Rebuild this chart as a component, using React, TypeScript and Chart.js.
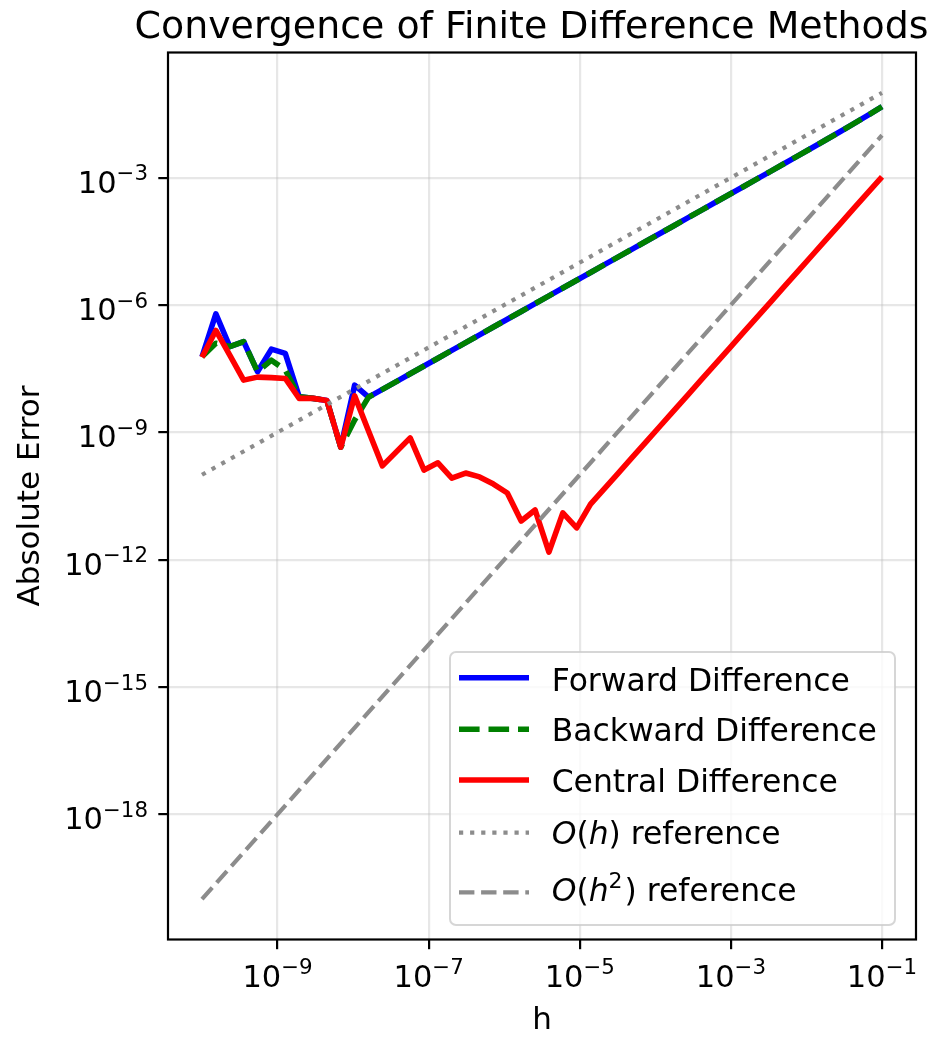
import { useEffect, useRef } from "react";
import { Chart, registerables } from "chart.js";

Chart.register(...registerables);

// Step sizes h (50 log-spaced values from 1e-10 to 1e-1)
const stepSizes = [
  1.0e-10, 1.526e-10, 2.33e-10, 3.556e-10, 5.429e-10, 8.286e-10, 1.265e-9, 1.931e-9, 2.947e-9, 4.498e-9,
  6.866e-9, 1.048e-8, 1.6e-8, 2.442e-8, 3.728e-8, 5.69e-8, 8.685e-8, 1.326e-7, 2.024e-7, 3.089e-7,
  4.715e-7, 7.197e-7, 1.099e-6, 1.677e-6, 2.56e-6, 3.907e-6, 5.964e-6, 9.103e-6, 1.389e-5, 2.121e-5,
  3.237e-5, 4.942e-5, 7.543e-5, 1.151e-4, 1.758e-4, 2.683e-4, 4.095e-4, 6.251e-4, 9.541e-4, 1.456e-3,
  2.223e-3, 3.393e-3, 5.179e-3, 7.906e-3, 1.207e-2, 1.842e-2, 2.812e-2, 4.292e-2, 6.551e-2, 1.0e-1,
];

// Absolute error of the forward difference
const forwardError = [
  6.03e-8, 6.17e-7, 1.05e-7, 1.38e-7, 2.69e-8, 9.12e-8, 7.24e-8, 6.92e-9, 6.31e-9, 5.62e-9,
  4.47e-10, 1.29e-8, 6.76e-9, 1.028e-8, 1.569e-8, 2.395e-8, 3.656e-8, 5.582e-8, 8.521e-8, 1.3e-7,
  1.985e-7, 3.03e-7, 4.627e-7, 7.06e-7, 1.078e-6, 1.645e-6, 2.511e-6, 3.832e-6, 5.848e-6, 8.929e-6,
  1.363e-5, 2.081e-5, 3.176e-5, 4.846e-5, 7.401e-5, 1.13e-4, 1.724e-4, 2.632e-4, 4.017e-4, 6.13e-4,
  9.359e-4, 1.428e-3, 2.193e-3, 3.359e-3, 5.154e-3, 7.925e-3, 1.223e-2, 1.899e-2, 2.973e-2, 4.71e-2,
];

// Absolute error of the backward difference
const backwardError = [
  6.03e-8, 1.26e-7, 1.05e-7, 1.38e-7, 2.69e-8, 5.01e-8, 2.95e-8, 6.92e-9, 6.31e-9, 5.62e-9,
  4.47e-10, 1.95e-9, 6.76e-9, 1.028e-8, 1.569e-8, 2.395e-8, 3.656e-8, 5.582e-8, 8.521e-8, 1.3e-7,
  1.985e-7, 3.03e-7, 4.627e-7, 7.06e-7, 1.078e-6, 1.645e-6, 2.511e-6, 3.832e-6, 5.848e-6, 8.929e-6,
  1.363e-5, 2.081e-5, 3.176e-5, 4.846e-5, 7.401e-5, 1.13e-4, 1.724e-4, 2.632e-4, 4.017e-4, 6.13e-4,
  9.359e-4, 1.428e-3, 2.193e-3, 3.359e-3, 5.154e-3, 7.925e-3, 1.223e-2, 1.899e-2, 2.973e-2, 4.71e-2,
];

// Absolute error of the central difference
const centralError = [
  5.89e-8, 2.51e-7, 6.61e-8, 1.7e-8, 2.0e-8, 1.95e-8, 1.86e-8, 6.31e-9, 6.31e-9, 5.62e-9,
  4.47e-10, 7.24e-9, 1.07e-9, 1.62e-10, 3.47e-10, 7.41e-10, 1.29e-10, 1.91e-10, 8.32e-11, 1.1e-10,
  8.91e-11, 6.03e-11, 3.72e-11, 8.13e-12, 1.48e-11, 1.51e-12, 1.26e-11, 5.62e-12, 2.03e-11, 4.724e-11,
  1.1e-10, 2.564e-10, 5.974e-10, 1.391e-9, 3.245e-9, 7.558e-9, 1.761e-8, 4.103e-8, 9.558e-8, 2.226e-7,
  5.189e-7, 1.209e-6, 2.816e-6, 6.563e-6, 1.53e-5, 3.563e-5, 8.303e-5, 1.934e-4, 4.506e-4, 1.05e-3,
];

// Reference slopes, given at the ends of the h range
const referenceH = [1e-10, 1e-1];
const firstOrderRef = [1e-10, 1e-1];
const secondOrderRef = [1e-20, 1e-2];

// Tick positions as powers of ten
const xTickExponents = [-9, -7, -5, -3, -1];
const yTickExponents = [-18, -15, -12, -9, -6, -3];

const TITLE = "Convergence of Finite Difference Methods";
const X_LABEL = "h";
const Y_LABEL = "Absolute Error";

const FONT = '"DejaVu Sans", "Liberation Sans", sans-serif';
const GRAY = "#8c8c8c";
const TICK_SIZE = 30.5;

const toPoints = (xs: number[], ys: number[]) => xs.map((x, i) => ({ x, y: ys[i] }));

type Run = { text: string; italic?: boolean; sup?: boolean };

// Minimal $...$ markup: letters italic, ^x superscript
const parseLabel = (label: string): Run[] => {
  const runs: Run[] = [];
  label.split("$").forEach((part, idx) => {
    if (idx % 2 === 0) {
      if (part) runs.push({ text: part });
      return;
    }
    for (let i = 0; i < part.length; i++) {
      const c = part[i];
      if (c === "^") {
        runs.push({ text: part[i + 1], sup: true });
        i++;
      } else if (/[A-Za-z]/.test(c)) runs.push({ text: c, italic: true });
      else runs.push({ text: c });
    }
  });
  return runs;
};

// Power-of-ten tick label: "10" with a raised, smaller exponent.
// (cx, cy) is the anchor; align picks which edge of the label sits on it.
const drawPowerLabel = (
  ctx: CanvasRenderingContext2D,
  exp: number,
  x: number,
  baseline: number,
  align: "center" | "right"
) => {
  const base = "10";
  const sup = (exp < 0 ? "\u2212" : "") + String(Math.abs(exp));
  const supSize = TICK_SIZE * 0.7;
  ctx.font = `${TICK_SIZE}px ${FONT}`;
  const wBase = ctx.measureText(base).width;
  ctx.font = `${supSize}px ${FONT}`;
  const wSup = ctx.measureText(sup).width;
  const total = wBase + wSup;
  const left = align === "center" ? x - total / 2 : x - total;
  ctx.textAlign = "left";
  ctx.textBaseline = "alphabetic";
  ctx.font = `${TICK_SIZE}px ${FONT}`;
  ctx.fillText(base, left, baseline);
  ctx.font = `${supSize}px ${FONT}`;
  ctx.fillText(sup, left + wBase, baseline - TICK_SIZE * 0.4);
};

const frameTitleLegend = {
  id: "frameTitleLegend",
  afterDraw(chart: any) {
    const { ctx, chartArea: a, scales } = chart;
    ctx.save();

    // axes frame
    ctx.strokeStyle = "#000";
    ctx.lineWidth = 2.2;
    ctx.setLineDash([]);
    ctx.strokeRect(a.left, a.top, a.right - a.left, a.bottom - a.top);

    // tick labels
    ctx.fillStyle = "#000";
    xTickExponents.forEach((e) => {
      const px = scales.x.getPixelForValue(Math.pow(10, e));
      drawPowerLabel(ctx, e, px, a.bottom + 47, "center");
    });
    yTickExponents.forEach((e) => {
      const py = scales.y.getPixelForValue(Math.pow(10, e));
      drawPowerLabel(ctx, e, a.left - 20, py + 15, "right");
    });

    // title
    ctx.fillStyle = "#000";
    ctx.font = `37.9px ${FONT}`;
    ctx.textAlign = "center";
    ctx.textBaseline = "alphabetic";
    ctx.fillText(TITLE, 531.5, 38);

    // legend box
    const bx = 450, by = 652, bw = 445, bh = 273, r = 6;
    ctx.beginPath();
    ctx.moveTo(bx + r, by);
    ctx.arcTo(bx + bw, by, bx + bw, by + bh, r);
    ctx.arcTo(bx + bw, by + bh, bx, by + bh, r);
    ctx.arcTo(bx, by + bh, bx, by, r);
    ctx.arcTo(bx, by, bx + bw, by, r);
    ctx.closePath();
    ctx.fillStyle = "rgba(255,255,255,0.8)";
    ctx.fill();
    ctx.strokeStyle = "rgba(204,204,204,0.8)";
    ctx.lineWidth = 2;
    ctx.stroke();

    const lineY = [677.7, 729.3, 780, 832.7, 892.3];
    const textY = [690.7, 741, 791.7, 844, 901];
    const size = 31.4;
    chart.data.datasets.forEach((ds: any, i: number) => {
      ctx.beginPath();
      ctx.strokeStyle = ds.borderColor;
      ctx.lineWidth = ds.borderWidth;
      ctx.lineCap = "butt";
      ctx.setLineDash(ds.borderDash || []);
      ctx.moveTo(459, lineY[i]);
      ctx.lineTo(529, lineY[i]);
      ctx.stroke();
      ctx.setLineDash([]);

      let x = 551.7;
      ctx.fillStyle = "#000";
      ctx.textAlign = "left";
      ctx.textBaseline = "alphabetic";
      parseLabel(ds.label).forEach((run) => {
        const fs = run.sup ? size * 0.7 : size;
        ctx.font = `${run.italic ? "italic " : ""}${fs}px ${FONT}`;
        const y = run.sup ? textY[i] - size * 0.42 : textY[i];
        ctx.fillText(run.text, x, y);
        x += ctx.measureText(run.text).width + (run.sup ? 2 : 0);
      });
    });

    ctx.restore();
  },
};

export default function App() {
  const canvasRef = useRef<HTMLCanvasElement | null>(null);

  useEffect(() => {
    const canvas = canvasRef.current;
    if (!canvas) return;

    const gridStyle = {
      color: "rgba(176,176,176,0.3)",
      lineWidth: 2.2,
      drawTicks: true,
      tickColor: "#000",
      tickLength: 9.7,
      tickWidth: 2.2,
    };

    const chart = new Chart(canvas, {
      type: "line",
      data: {
        datasets: [
          {
            label: "Forward Difference",
            data: toPoints(stepSizes, forwardError),
            borderColor: "#0000ff",
            borderWidth: 5.6,
            order: 5,
          },
          {
            label: "Backward Difference",
            data: toPoints(stepSizes, backwardError),
            borderColor: "#008000",
            borderWidth: 5.6,
            borderDash: [20.6, 8.9],
            order: 4,
          },
          {
            label: "Central Difference",
            data: toPoints(stepSizes, centralError),
            borderColor: "#ff0000",
            borderWidth: 5.6,
            order: 3,
          },
          {
            label: "$O(h)$ reference",
            data: toPoints(referenceH, firstOrderRef),
            borderColor: GRAY,
            borderWidth: 4.2,
            borderDash: [4.2, 6.9],
            order: 2,
          },
          {
            label: "$O(h^2)$ reference",
            data: toPoints(referenceH, secondOrderRef),
            borderColor: GRAY,
            borderWidth: 4.2,
            borderDash: [15.4, 6.7],
            order: 1,
          },
        ],
      } as any,
      options: {
        animation: false,
        responsive: false,
        devicePixelRatio: 1,
        events: [],
        layout: { padding: { top: 52.5, right: 31, bottom: 0, left: 0 } },
        elements: {
          point: { radius: 0, hoverRadius: 0 },
          line: { tension: 0, fill: false, borderJoinStyle: "round", borderCapStyle: "butt" },
        },
        plugins: {
          legend: { display: false },
          tooltip: { enabled: false },
          title: { display: false },
        },
        scales: {
          x: {
            type: "logarithmic",
            min: Math.pow(10, -10.45),
            max: Math.pow(10, -0.55),
            afterBuildTicks: (scale: any) => {
              scale.ticks = xTickExponents.map((e) => ({ value: Math.pow(10, e) }));
            },
            afterFit: (scale: any) => {
              scale.height = 100.5;
            },
            ticks: { display: false, autoSkip: false },
            grid: gridStyle,
            border: { display: false },
            title: {
              display: true,
              text: X_LABEL,
              color: "#000",
              font: { family: FONT, size: 31 },
              padding: { top: 0, bottom: 0 },
            },
          },
          y: {
            type: "logarithmic",
            min: Math.pow(10, -20.95),
            max: Math.pow(10, -0.05),
            afterBuildTicks: (scale: any) => {
              scale.ticks = yTickExponents.map((e) => ({ value: Math.pow(10, e) }));
            },
            afterFit: (scale: any) => {
              scale.width = 168;
            },
            ticks: { display: false, autoSkip: false },
            grid: gridStyle,
            border: { display: false },
            title: {
              display: true,
              text: Y_LABEL,
              color: "#000",
              font: { family: FONT, size: 31 },
              padding: { top: 12, bottom: 0 },
            },
          },
        },
      } as any,
      plugins: [frameTitleLegend],
    });

    return () => chart.destroy();
  }, []);

  return (
    <canvas
      ref={canvasRef}
      width={947}
      height={1040}
      style={{ position: "absolute", left: 0, top: 0, width: 947, height: 1040 }}
    />
  );
}
